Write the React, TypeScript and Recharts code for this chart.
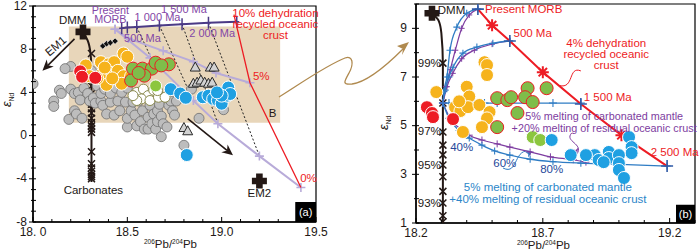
import React from 'react';
import { ScatterChart, Scatter, XAxis, YAxis, ReferenceArea, ReferenceDot, ReferenceLine } from 'recharts';

const FONT = '"Liberation Sans", Arial, Helvetica, sans-serif';

const INK = '#231815';
const RED = '#ed1c24';
const TAN = '#e8d6ba';
const LAV = '#b8abd9';
const DPURPLE = '#4b3a86';
const PURPLE_TXT = '#8346a6';
const BLUE_LINE = '#2e7cc4';
const PURPLE_LINE = '#7d3ca0';
const BLUE_TXT = '#2b86c9';
const DBLUE_TXT = '#25489a';
const BROWN = '#b08a4f';
const YELLOW = '#f6b31c';
const GREEN = '#7fbd4a';
const BLUE = '#1fa0e2';
const GREY = '#bdbdbd';

// ---------- panel (a) ----------
const xMajorA = [18.0, 18.5, 19.0, 19.5];
const xLabelsA = ['18. 0', '18.5', '19.0', '19.5'];
const yMajorA = [-8, -4, 0, 4, 8, 12];

const greyA = [
  [18.0, 4.8], [18.11, 3.2], [18.11, 2.7], [18.14, 4.2], [18.15, 3.9], [18.19, 1.5], [18.2, 6.4], [18.2, 4.3],
  [18.22, 3.9], [18.22, 2.3], [18.23, 2.0], [18.24, 4.0], [18.26, 1.6], [18.25, 3.3], [18.27, 4.4], [18.29, 3.9],
  [18.3, 3.2], [18.32, 3.5], [18.33, 3.0], [18.34, 4.6], [18.36, 3.2], [18.36, 3.9], [18.37, 2.8], [18.38, 4.3],
  [18.39, 2.0], [18.41, 3.1], [18.41, 3.9], [18.43, 1.9], [18.44, 4.4], [18.45, 3.2], [18.46, 2.3], [18.47, 4.0],
  [18.49, 3.1], [18.5, 0.8], [18.5, 1.6], [18.5, 4.4], [18.52, 2.3], [18.53, 3.1], [18.54, 1.9], [18.55, 0.9],
  [18.56, 3.2], [18.57, 1.3], [18.58, 2.3], [18.59, 0.6], [18.61, 0.6], [18.61, 1.7], [18.62, 2.8], [18.63, 1.1],
  [18.64, 2.0], [18.65, 0.6], [18.66, 1.3], [18.66, 2.3], [18.67, 2.9], [18.68, 1.8], [18.69, 1.1], [18.68, -0.1],
  [18.71, 0.8], [18.72, 2.8], [18.73, 3.2], [18.74, 2.3], [18.75, 1.9], [18.76, 3.2], [18.8, -0.9], [18.84, 4.3],
  [18.88, 1.6], [18.92, 3.6], [18.96, 3.2], [18.99, 3.9], [19.01, 2.4], [18.31, 6.0], [18.17, 6.2],
];
const triA = [
  [18.86, 6.3], [18.94, 6.3], [18.96, 6.3], [18.85, 4.8], [18.87, 4.9], [18.89, 5.1], [18.91, 4.9], [18.93, 4.8],
  [18.95, 4.9], [18.97, 4.2], [18.8, 0.7], [18.82, 0.4], [18.66, 4.3],
];
const hollowA = [
  [18.55, 4.0], [18.585, 4.3], [18.61, 3.7], [18.64, 4.2], [18.575, 3.4], [18.62, 3.25], [18.665, 3.55], [18.7, 3.55],
  [18.66, 4.17], [18.55, 3.25], [18.53, 3.7],
];
const yellowA = [
  [18.28, 6.5], [18.36, 6.8], [18.4, 6.6], [18.43, 6.8], [18.48, 7.6], [18.5, 7.3], [18.37, 5.8], [18.42, 5.8],
  [18.45, 6.0], [18.48, 5.5], [18.39, 4.7], [18.47, 4.8], [18.3, 5.5], [18.34, 5.3], [18.42, 5.3], [18.52, 5.5],
  [18.38, 6.3],
];
const redA = [[18.25, 5.95], [18.26, 5.45], [18.33, 5.35]];
const greenA = [
  [18.53, 6.2], [18.58, 6.2], [18.63, 6.2], [18.65, 6.75], [18.72, 6.6], [18.52, 5.1], [18.59, 5.55], [18.68, 6.5],
  [18.56, 5.8],
];
const paleGreenA = [[18.65, 4.6]];
const blueA = [
  [18.73, 4.3], [18.78, 3.9], [18.81, 3.5], [18.9, 3.55], [18.93, 3.7], [18.955, 3.4], [18.98, 3.25], [19.0, 2.95],
  [19.03, 3.7], [19.035, 4.45], [19.045, 3.85], [19.0, 3.7], [18.975, 4.0], [18.815, -1.8],
];
const diamondA = [[18.37, 8.3], [18.39, 8.5], [18.41, 8.6], [18.435, 8.75]];
const dmmA = [[18.265, 9.6]];
const em2A = [[19.2, -4.2]];
const carbCurveA = [[18.265, 9.6], [18.29, 8.8], [18.305, 7.6], [18.31, 6.0], [18.31, -4.3]];
const carbMarksA = [
  [18.31, 7.6], [18.31, 4.6], [18.31, 3.9], [18.31, 3.4], [18.31, 2.9], [18.31, 2.5], [18.31, 2.1], [18.31, 1.6],
  [18.31, 1.2], [18.31, 0.9], [18.31, 0.6], [18.31, 0.3], [18.31, -1.5], [18.31, -2.6], [18.31, -3.0], [18.31, -3.3],
  [18.31, -3.6], [18.31, -3.8], [18.31, -4.0],
];
const morbA = [[18.47, 9.95], [18.5, 10.0], [18.55, 10.05], [18.67, 10.2], [18.79, 10.32], [18.93, 10.45], [19.08, 10.55]];
const lavUpA = [[18.435, 9.85], [18.505, 9.0], [18.69, 7.85], [18.85, 6.85], [18.97, 5.8], [19.15, 4.9]];
const lavLowA = [[18.435, 9.85], [18.62, 7.2], [18.85, 3.24], [18.98, 1.1], [19.2, -1.9], [19.42, -4.8]];
const redLineA = [[19.065, 11.2], [19.15, 4.9], [19.42, -4.8]];
const isochronsA = [
  [[18.55, 10.05], [18.65, 6.3]],
  [[18.67, 10.2], [18.85, 3.2]],
  [[18.79, 10.32], [18.98, 1.1]],
  [[18.93, 10.45], [19.2, -1.9]],
];
const arrowsA = [
  [[18.22, 8.96], [18.05, 6.0]],
  [[18.82, 1.58], [19.06, -1.82]],
];

// ---------- panel (b) ----------
const xMajorB = [18.2, 18.7, 19.2];
const xLabelsB = ['18.2', '18.7', '19.2'];
const yMajorB = [1, 3, 5, 7, 9];

const redB = [[18.243, 5.76], [18.263, 5.52], [18.267, 5.35], [18.346, 5.27]];
const yellowB = [
  [18.47, 7.61], [18.48, 7.49], [18.48, 7.08], [18.28, 6.38], [18.4, 6.6], [18.41, 6.2], [18.354, 5.76], [18.375, 5.6],
  [18.405, 5.76], [18.45, 5.85], [18.49, 5.56], [18.48, 5.3], [18.46, 4.94], [18.385, 4.74], [18.37, 6.0],
];
const greenB = [
  [18.52, 6.13], [18.56, 6.05], [18.575, 6.17], [18.64, 6.54], [18.63, 6.17], [18.66, 5.97], [18.715, 6.54],
  [18.6, 5.52], [18.52, 4.94],
];
const paleGreenB = [[18.66, 4.53], [18.69, 4.41]];
const blueB = [
  [18.735, 4.41], [18.81, 3.79], [19.04, 4.53], [19.05, 4.12], [19.05, 3.87], [18.905, 3.79], [18.92, 3.59],
  [18.96, 3.92], [18.96, 3.67], [19.0, 3.79], [19.0, 3.46], [19.0, 3.18], [19.02, 2.85], [18.94, 3.5], [18.87, 3.79],
];
const dmmB = [[18.263, 9.62]];
const carbCurveB = [[18.263, 9.62], [18.29, 9.3], [18.3, 8.8], [18.306, 7.5], [18.306, 1.0]];
const carbMarksB = [
  [18.306, 7.57], [18.306, 5.93], [18.306, 4.74], [18.306, 4.2], [18.306, 3.8], [18.306, 3.38], [18.306, 2.9],
  [18.306, 2.3], [18.306, 1.82], [18.306, 1.3], [18.306, 1.05],
];
const redLineB = [[18.444, 9.79], [18.5, 9.13], [18.57, 8.48], [18.7, 7.2], [18.85, 5.89], [19.01, 4.61], [19.19, 3.34]];
const redStarsB = [[18.5, 9.13], [18.7, 7.2], [19.01, 4.61]];
const agePointsB = [[18.444, 9.79], [18.57, 8.48], [18.85, 5.89], [19.19, 3.34]];
const blueUp1 = [[18.306, 5.93], [18.31, 6.4], [18.322, 7.0], [18.334, 8.1], [18.361, 9.05], [18.4, 9.62], [18.444, 9.79]];
const purpleUp1 = [[18.306, 5.93], [18.318, 6.6], [18.335, 7.3], [18.355, 8.1], [18.38, 9.0], [18.41, 9.55], [18.444, 9.79]];
const blueUp2 = [[18.306, 5.93], [18.315, 6.46], [18.33, 7.0], [18.346, 7.4], [18.385, 7.98], [18.44, 8.23], [18.503, 8.39], [18.57, 8.48]];
const purpleUp2 = [[18.306, 5.93], [18.322, 6.6], [18.345, 7.15], [18.38, 7.75], [18.43, 8.1], [18.5, 8.35], [18.57, 8.48]];
const blueMid = [[18.306, 5.93], [18.33, 5.93], [18.35, 5.93], [18.37, 5.93], [18.39, 5.93], [18.43, 5.93], [18.47, 5.93], [18.52, 5.93], [18.74, 5.93], [18.85, 5.93]];
const blueLow = [
  [18.306, 5.93], [18.33, 5.3], [18.37, 4.8], [18.41, 4.49], [18.46, 4.2], [18.51, 3.96], [18.57, 3.79], [18.65, 3.62],
  [18.74, 3.52], [18.85, 3.46], [18.98, 3.42], [19.19, 3.34],
];
const purpleLow = [
  [18.306, 5.93], [18.34, 5.2], [18.38, 4.85], [18.41, 4.61], [18.46, 4.41], [18.52, 4.25], [18.57, 4.12], [18.65, 3.92],
  [18.73, 3.72], [18.82, 3.6], [18.87, 3.5],
];
const pointersB = [
  { seg: [[18.85, 7.25], [18.765, 6.65]], color: RED, head: false },
  { seg: [[18.814, 4.7], [18.834, 3.83]], color: PURPLE_LINE, head: true },
  { seg: [[18.543, 3.26], [18.657, 3.92]], color: BLUE_LINE, head: true },
];

const P = (a: number[][]) => a.map(([x, y]) => ({ x, y }));
const steps = (a: number, b: number, s: number) => {
  const out: number[] = [];
  for (let v = a; v <= b + 1e-9; v += s) out.push(Math.round(v * 100) / 100);
  return out;
};
const isIn = (list: number[], v: number) => list.findIndex((m) => Math.abs(m - v) < 1e-6);

// marker shapes
const circ = (r: number, fill: string, stroke: string, sw = 1) => (p: any) => (
  <circle cx={p.cx} cy={p.cy} r={r} fill={fill} stroke={stroke} strokeWidth={sw} />
);
const plus = (s: number, c: string, sw = 1.2) => (p: any) => (
  <path d={`M${p.cx - s} ${p.cy}H${p.cx + s}M${p.cx} ${p.cy - s}V${p.cy + s}`} stroke={c} strokeWidth={sw} fill="none" />
);
const tall = (c: string) => (p: any) => (
  <path d={`M${p.cx - 2.5} ${p.cy}H${p.cx + 2.5}M${p.cx} ${p.cy - 6}V${p.cy + 6}`} stroke={c} strokeWidth={1.5} fill="none" />
);
const cross = (s: number, c: string, sw = 1.4) => (p: any) => (
  <path d={`M${p.cx - s} ${p.cy - s}L${p.cx + s} ${p.cy + s}M${p.cx + s} ${p.cy - s}L${p.cx - s} ${p.cy + s}`} stroke={c} strokeWidth={sw} fill="none" />
);
const star = (s: number, c: string) => (p: any) => (
  <path
    d={`M${p.cx - s} ${p.cy}H${p.cx + s}M${p.cx} ${p.cy - s}V${p.cy + s}M${p.cx - s * 0.7} ${p.cy - s * 0.7}L${p.cx + s * 0.7} ${p.cy + s * 0.7}M${p.cx + s * 0.7} ${p.cy - s * 0.7}L${p.cx - s * 0.7} ${p.cy + s * 0.7}`}
    stroke={c} strokeWidth={2} fill="none" />
);
const tri = (p: any) => (
  <path d={`M${p.cx} ${p.cy - 5.5}L${p.cx + 5} ${p.cy + 3.5}L${p.cx - 5} ${p.cy + 3.5}Z`} fill="#d2d2d2" stroke="#2a2a2a" strokeWidth={1} />
);
const diamond = (p: any) => (
  <path d={`M${p.cx} ${p.cy - 3.2}L${p.cx + 3.2} ${p.cy}L${p.cx} ${p.cy + 3.2}L${p.cx - 3.2} ${p.cy}Z`} fill="#111" stroke="#fff" strokeWidth={0.6} />
);
const fatPlus = (p: any) => {
  const w = 3.3, l = 7.5, x = p.cx, y = p.cy;
  return (
    <path
      d={`M${x - w} ${y - l}H${x + w}V${y - w}H${x + l}V${y + w}H${x + w}V${y + l}H${x - w}V${y + w}H${x - l}V${y - w}H${x - w}Z`}
      fill={INK} />
  );
};
const none = () => <g />;

const curve = (k: string, data: number[][], color: string, width: number, shape: any, type = 'linear', dash?: string) => (
  <Scatter key={k} data={P(data)} line={{ stroke: color, strokeWidth: width, strokeDasharray: dash }}
    lineJointType={type as any} shape={shape} isAnimationActive={false} />
);
const dots = (k: string, data: number[][], shape: any) => (
  <Scatter key={k} data={P(data)} shape={shape} isAnimationActive={false} />
);

const head = (x1: number, y1: number, x2: number, y2: number, L: number, W: number, c: string) => {
  const a = Math.atan2(y2 - y1, x2 - x1);
  const bx = x2 - L * Math.cos(a), by = y2 - L * Math.sin(a);
  const lx = bx + W * Math.sin(a), ly = by - W * Math.cos(a);
  const rx = bx - W * Math.sin(a), ry = by + W * Math.cos(a);
  const nx = bx + 0.3 * L * Math.cos(a), ny = by + 0.3 * L * Math.sin(a);
  return { nx, ny, el: <path d={`M${x2} ${y2}L${lx} ${ly}L${nx} ${ny}L${rx} ${ry}Z`} fill={c} /> };
};
const arrowShape = (p: any) => {
  const { x1, y1, x2, y2 } = p;
  const h = head(x1, y1, x2, y2, 11, 5, INK);
  return (
    <g>
      <line x1={x1} y1={y1} x2={h.nx} y2={h.ny} stroke={INK} strokeWidth={1.6} />
      {h.el}
    </g>
  );
};
const wiggle = (c: string, withHead: boolean) => (p: any) => {
  const { x1, y1, x2, y2 } = p;
  const dx = x2 - x1, dy = y2 - y1;
  const len = Math.hypot(dx, dy) || 1;
  const nx = -dy / len, ny = dx / len, a = len * 0.45;
  const d = `M${x1} ${y1}C${x1 + dx * 0.3 + nx * a} ${y1 + dy * 0.3 + ny * a} ${x1 + dx * 0.6 - nx * a} ${y1 + dy * 0.6 - ny * a} ${x2} ${y2}`;
  const h = head(x1 + dx * 0.8, y1 + dy * 0.8, x2, y2, 6, 3, c);
  return (
    <g>
      <path d={d} fill="none" stroke={c} strokeWidth={1} />
      {withHead && h.el}
    </g>
  );
};

const note = (k: string, x: number, y: number, lines: string[], color = INK, size = 11.5, anchor = 'middle', rot = 0, lh = 1.05) => (
  <ReferenceDot key={k} x={x} y={y} r={0} fill="none" stroke="none" ifOverflow="visible"
    label={{
      content: (p: any) => {
        const vx = p.viewBox.x, vy = p.viewBox.y;
        return (
          <text x={vx} y={vy} textAnchor={anchor as any} fill={color} fontSize={size} fontFamily={FONT}
            transform={rot ? `rotate(${rot} ${vx} ${vy})` : undefined}>
            {lines.map((t, i) => (
              <tspan key={i} x={vx} dy={i === 0 ? '0.35em' : `${lh}em`}>{t}</tspan>
            ))}
          </text>
        );
      },
    }} />
);

const xTick = (majors: number[], labels: string[]) => (p: any) => {
  const v = p.payload.value;
  const i = isIn(majors, v);
  return (
    <g>
      <line x1={p.x} x2={p.x} y1={p.y} y2={p.y - (i >= 0 ? 5 : 3)} stroke="#000" strokeWidth={1} />
      {i >= 0 && (
        <text x={p.x} y={p.y + 14} textAnchor="middle" fontSize={12} fontFamily={FONT} fill={INK}>{labels[i]}</text>
      )}
    </g>
  );
};
const yTick = (majors: number[], gap: number) => (p: any) => {
  const v = p.payload.value;
  const i = isIn(majors, v);
  return (
    <g>
      <line x1={p.x - (i >= 0 ? 4 : 2)} x2={p.x + 3} y1={p.y} y2={p.y} stroke="#000" strokeWidth={1} />
      {i >= 0 && (
        <text x={p.x - gap} y={p.y} dy="0.3em" textAnchor="end" fontSize={12} fontFamily={FONT} fill={INK}>{v}</text>
      )}
    </g>
  );
};
const xTitle = (shift: number) => (p: any) => {
  const vb = p.viewBox;
  return (
    <text x={vb.x + vb.width / 2 + shift} y={vb.y + 26} textAnchor="middle" fontFamily={FONT} fill={INK} fontSize={11.5}>
      <tspan fontSize={6.5} dy={-4}>206</tspan>
      <tspan dy={4}>Pb/</tspan>
      <tspan fontSize={6.5} dy={-4}>204</tspan>
      <tspan dy={4}>Pb</tspan>
    </text>
  );
};
const yTitle = (tx: number, ty: number) => () => (
  <text x={tx} y={ty} transform={`rotate(-90 ${tx} ${ty})`} textAnchor="middle" fontFamily={FONT} fill={INK}>
    <tspan fontStyle="italic" fontSize={13}>ε</tspan>
    <tspan fontSize={6.5} dy={3}>Nd</tspan>
  </text>
);

const AXIS = { stroke: '#000', strokeWidth: 1.5 };

function PanelA() {
  return (
    <ScatterChart width={330} height={250} margin={{ top: 6, right: 14, bottom: 0, left: 0 }}>
      <XAxis type="number" dataKey="x" domain={[18, 19.5]} ticks={steps(18, 19.5, 0.1)} interval={0}
        tick={xTick(xMajorA, xLabelsA)} tickLine={false} tickSize={0} tickMargin={0} axisLine={AXIS} height={28}
        allowDataOverflow label={{ content: xTitle(-4) }} />
      <YAxis type="number" dataKey="y" domain={[-8, 12]} ticks={steps(-8, 12, 1)} interval={0}
        tick={yTick(yMajorA, 6)} tickLine={false} tickSize={0} tickMargin={0} axisLine={AXIS} width={33}
        allowDataOverflow label={{ content: yTitle(11, 100) }} />
      <ReferenceArea x1={18.19} x2={19.31} y1={1.2} y2={10.1} fill={TAN} fillOpacity={1} stroke="none" />
      {isochronsA.map((s, i) => (
        <ReferenceLine key={'iso' + i} segment={[{ x: s[0][0], y: s[0][1] }, { x: s[1][0], y: s[1][1] }]}
          stroke="#222" strokeWidth={1} strokeDasharray="2 2" />
      ))}
      {curve('lavLow', lavLowA, LAV, 2, plus(4.5, LAV, 1.6))}
      {curve('lavUp', lavUpA, LAV, 2, plus(4.5, LAV, 1.6))}
      {curve('morb', morbA, DPURPLE, 2, tall(DPURPLE))}
      {curve('redA', redLineA, RED, 1.3, none)}
      {curve('carbA', carbCurveA, INK, 2, none, 'monotoneY')}
      {dots('carbMarksA', carbMarksA, cross(3.5, INK, 1.5))}
      {dots('greyA', greyA, circ(5, GREY, '#6e6e6e', 0.8))}
      {dots('triA', triA, tri)}
      {dots('hollowA', hollowA, circ(5, '#fff', '#8a8a4e', 1))}
      {dots('yellowA', yellowA, circ(6.5, YELLOW, '#fff', 1))}
      {dots('redA', redA, circ(6.5, RED, '#fff', 1))}
      {dots('greenA', greenA, circ(6.5, GREEN, RED, 1))}
      {dots('paleGreenA', paleGreenA, circ(6, '#8cc63f', '#fff', 1))}
      {dots('blueA', blueA, circ(6.5, BLUE, '#fff', 1))}
      {dots('diamondA', diamondA, diamond)}
      {dots('dmmA', dmmA, fatPlus)}
      {dots('em2A', em2A, fatPlus)}
      {arrowsA.map((s, i) => (
        <ReferenceLine key={'arr' + i} segment={[{ x: s[0][0], y: s[0][1] }, { x: s[1][0], y: s[1][1] }]} shape={arrowShape} />
      ))}
      {note('presentMorb', 18.41, 11.6, ['Present', 'MORB'], PURPLE_TXT, 10.8, 'middle', 0, 0.78)}
      {note('dmmTxt', 18.21, 10.75, ['DMM'])}
      {note('a1000', 18.66, 10.95, ['1 000 Ma'], PURPLE_TXT, 11)}
      {note('a1500', 18.8, 11.7, ['1 500 Ma'], PURPLE_TXT, 11)}
      {note('a500', 18.58, 9.05, ['500 Ma'], PURPLE_TXT, 11)}
      {note('a2000', 18.95, 9.5, ['2 000 Ma'], PURPLE_TXT, 11)}
      {note('dh', 19.285, 11.35, ['10% dehydration', 'recycled oceanic', 'crust'], RED, 11.5, 'middle', 0, 0.95)}
      {note('p5', 19.21, 5.55, ['5%'], RED)}
      {note('p0', 19.46, -3.9, ['0%'], RED)}
      {note('B', 19.27, 2.05, ['B'])}
      {note('carb', 18.32, -5.05, ['Carbonates'])}
      {note('em2', 19.2, -5.3, ['EM2'])}
      {note('em1', 18.12, 8.3, ['EM1'], INK, 11.5, 'middle', -40)}
      <ReferenceArea x1={18} x2={19.5} y1={-8} y2={12} fill="none" stroke="#000" strokeWidth={1.2} />
      <ReferenceArea x1={19.39} x2={19.5} y1={-8} y2={-6.15} fill="#000" fillOpacity={1} stroke="none"
        label={{ value: '(a)', fill: '#fff', fontSize: 11, fontFamily: FONT, position: 'center' }} />
    </ScatterChart>
  );
}

function PanelB() {
  return (
    <ScatterChart width={330} height={250} margin={{ top: 4, right: 5, bottom: 0, left: 0 }}>
      <XAxis type="number" dataKey="x" domain={[18.2, 19.3]} ticks={steps(18.2, 19.3, 0.1)} interval={0}
        tick={xTick(xMajorB, xLabelsB)} tickLine={false} tickSize={0} tickMargin={0} axisLine={AXIS} height={27}
        allowDataOverflow label={{ content: xTitle(-12) }} />
      <YAxis type="number" dataKey="y" domain={[1, 10]} ticks={steps(1, 10, 1)} interval={0}
        tick={yTick(yMajorB, 9)} tickLine={false} tickSize={0} tickMargin={0} axisLine={AXIS} width={46}
        allowDataOverflow label={{ content: yTitle(18, 123) }} />
      {curve('carbB', carbCurveB, INK, 2, none, 'monotoneY')}
      {dots('carbMarksB', carbMarksB, cross(3.5, INK, 1.5))}
      {curve('pUp1', purpleUp1, PURPLE_LINE, 1.2, plus(3, PURPLE_LINE, 1), 'monotoneX')}
      {curve('bUp1', blueUp1, BLUE_LINE, 1.3, plus(3.5, BLUE_LINE, 1.1), 'monotoneX')}
      {curve('pUp2', purpleUp2, PURPLE_LINE, 1.2, plus(3, PURPLE_LINE, 1), 'monotoneX')}
      {curve('bUp2', blueUp2, BLUE_LINE, 1.3, plus(3.5, BLUE_LINE, 1.1), 'monotoneX')}
      {curve('bMid', blueMid, BLUE_LINE, 1.3, plus(4, BLUE_LINE, 1.1))}
      {curve('pLow', purpleLow, PURPLE_LINE, 1.2, plus(3.5, PURPLE_LINE, 1), 'monotoneX')}
      {curve('bLow', blueLow, BLUE_LINE, 1.3, plus(3.5, BLUE_LINE, 1.1), 'monotoneX')}
      {curve('redB', redLineB, RED, 2, none)}
      {dots('starsB', redStarsB, star(6, RED))}
      {dots('ageB', agePointsB, plus(6, '#2f5aa6', 1.6))}
      {dots('yellowB', yellowB, circ(6.5, YELLOW, '#fff', 1))}
      {dots('redB', redB, circ(6.5, RED, '#fff', 1))}
      {dots('greenB', greenB, circ(6.5, GREEN, RED, 1))}
      {dots('paleGreenB', paleGreenB, circ(6.5, '#8cc63f', '#fff', 1))}
      {dots('blueB', blueB, circ(6.5, BLUE, '#fff', 1))}
      {dots('dmmB', dmmB, fatPlus)}
      {pointersB.map((q, i) => (
        <ReferenceLine key={'ptr' + i} segment={[{ x: q.seg[0][0], y: q.seg[0][1] }, { x: q.seg[1][0], y: q.seg[1][1] }]}
          shape={wiggle(q.color, q.head)} />
      ))}
      {note('dmmB', 18.34, 9.75, ['DMM'])}
      {note('pm', 18.472, 9.79, ['Present MORB'], RED, 11.5, 'start')}
      {note('b500', 18.66, 8.8, ['500 Ma'], RED)}
      {note('bd', 18.95, 8.39, ['4% dehydration', 'recycled oceanic', 'crust'], RED, 11.5, 'middle', 0, 0.95)}
      {note('b1500', 18.956, 6.17, ['1 500 Ma'], RED)}
      {note('b2500', 19.22, 3.92, ['2 500 Ma'], RED)}
      {note('pm12', 18.942, 5.37, ['5% melting of carbonated mantle', '+20% melting of residual oceanic crust'], PURPLE_LINE, 10.8, 'middle', 0, 1.03)}
      {note('bm12', 18.72, 2.48, ['5% melting of carbonated mantle', '+40% melting of residual oceanic crust'], BLUE_TXT, 11.5, 'middle', 0, 1.0)}
      {note('f40', 18.38, 4.12, ['40%'], DBLUE_TXT)}
      {note('f60', 18.55, 3.46, ['60%'], DBLUE_TXT)}
      {note('f80', 18.735, 3.22, ['80%'], DBLUE_TXT)}
      {note('c99', 18.298, 7.57, ['99%'], INK, 11.5, 'end')}
      {note('c97', 18.298, 4.78, ['97%'], INK, 11.5, 'end')}
      {note('c95', 18.298, 3.38, ['95%'], INK, 11.5, 'end')}
      {note('c93', 18.298, 1.82, ['93%'], INK, 11.5, 'end')}
      <ReferenceArea x1={18.2} x2={19.3} y1={1} y2={10} fill="none" stroke="#000" strokeWidth={1.2} />
      <ReferenceArea x1={19.225} x2={19.3} y1={1} y2={1.75} fill="#000" fillOpacity={1} stroke="none"
        label={{ value: '(b)', fill: '#fff', fontSize: 11, fontFamily: FONT, position: 'center' }} />
    </ScatterChart>
  );
}

export default function App() {
  return (
    <div style={{ position: 'absolute', left: 0, top: 0, width: 700, height: 250, background: '#fff', fontFamily: FONT }}>
      <div style={{ position: 'absolute', left: 0, top: 0 }}>
        <PanelA />
      </div>
      <div style={{ position: 'absolute', left: 370, top: 0 }}>
        <PanelB />
      </div>
      <svg width={700} height={250} style={{ position: 'absolute', left: 0, top: 0, pointerEvents: 'none' }}>
        <path d="M279 97 C300 84 325 66 345 58 C353 55 354 64 349 73 C344 82 342 85 352 84 C368 82 388 64 403 49"
          fill="none" stroke={BROWN} strokeWidth={1.3} />
        <path d="M409 42 L397 46 L403 49 L402 55 Z" fill={BROWN} />
      </svg>
    </div>
  );
}
